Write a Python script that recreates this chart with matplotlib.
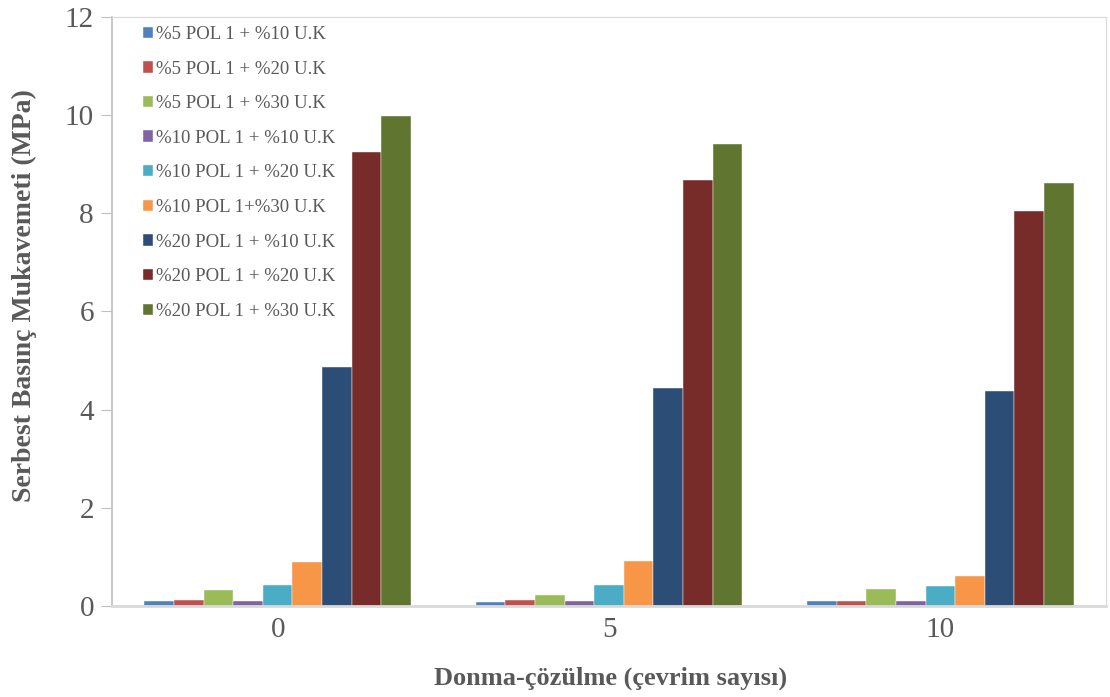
import numpy as np
import matplotlib.pyplot as plt

plt.rcParams['font.family'] = ['Liberation Serif', 'DejaVu Serif']

# Donma-çözülme çevrim sayısı
cycles = ['0', '5', '10']

series = ['%5 POL 1 + %10 U.K', '%5 POL 1 + %20 U.K', '%5 POL 1 + %30 U.K',
          '%10 POL 1 + %10 U.K', '%10 POL 1 + %20 U.K', '%10 POL 1+%30 U.K',
          '%20 POL 1 + %10 U.K', '%20 POL 1 + %20 U.K', '%20 POL 1 + %30 U.K']

pol5_uk10 = [0.10, 0.09, 0.10]
pol5_uk20 = [0.12, 0.12, 0.11]
pol5_uk30 = [0.33, 0.22, 0.34]
pol10_uk10 = [0.10, 0.10, 0.10]
pol10_uk20 = [0.43, 0.42, 0.41]
pol10_uk30 = [0.89, 0.91, 0.61]
pol20_uk10 = [4.87, 4.44, 4.38]
pol20_uk20 = [9.25, 8.68, 8.04]
pol20_uk30 = [9.98, 9.41, 8.61]

values = [pol5_uk10, pol5_uk20, pol5_uk30, pol10_uk10, pol10_uk20,
          pol10_uk30, pol20_uk10, pol20_uk20, pol20_uk30]

colors = ['#4f81bd', '#c0504d', '#9bbb59', '#8064a2', '#4bacc6',
          '#f79646', '#2c4d75', '#772c2a', '#5f7530']

txt = '#595959'

fig = plt.figure(figsize=(11.1, 6.97), dpi=100)
ax = fig.add_axes([0.1009, 0.1306, 0.8955, 0.8450])

x = np.arange(len(cycles))
w = 0.0895
for i, (name, vals) in enumerate(zip(series, values)):
    ax.bar(x + (i - 4) * w, vals, width=w, color=colors[i], label=name,
           edgecolor='white', linewidth=0.3)

ax.set_xlim(-0.5, 2.5)
ax.set_ylim(0, 12)
ax.set_yticks(range(0, 13, 2))
ax.set_xticks(x)
ax.set_xticklabels(cycles)

ax.tick_params(axis='y', direction='out', length=8, color='#bfbfbf',
               labelsize=21, labelcolor=txt, pad=5)
ax.tick_params(axis='x', length=0, labelsize=21, labelcolor=txt, pad=8)

for side in ['top', 'right', 'bottom']:
    ax.spines[side].set_color('#d9d9d9')
ax.spines['bottom'].set_linewidth(2)
ax.spines['left'].set_color('#bfbfbf')
ax.spines['left'].set_linewidth(1.2)

ax.set_xlabel('Donma-çözülme (çevrim sayısı)', fontsize=19, fontweight='bold',
              color=txt)
ax.xaxis.set_label_coords(0.502, -0.103)
ax.set_ylabel('Serbest Basınç Mukavemeti (MPa)', fontsize=20, fontweight='bold',
              color=txt)
ax.yaxis.set_label_coords(-0.075, 0.527)

leg = ax.legend(loc='upper left', bbox_to_anchor=(0.02, 1.004), frameon=False,
                fontsize=13.5, labelcolor=txt, handlelength=0.55, handleheight=0.55,
                handletextpad=0.15, labelspacing=0.94, borderaxespad=0.2)

fig.savefig('out.png', dpi=100)
